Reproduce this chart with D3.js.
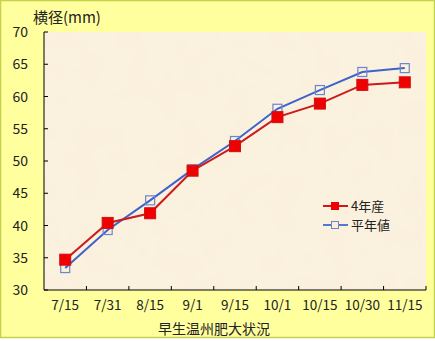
<!DOCTYPE html>
<html>
<head>
<meta charset="utf-8">
<script src="https://cdn.jsdelivr.net/npm/d3@7"></script>
<style>
body { margin: 0; }
svg text { font-family: "Noto Sans CJK JP", "Noto Sans", sans-serif; }
</style>
</head>
<body>
<svg width="435" height="341"></svg>
<script>
// 早生温州 横径
var dates = ["7/15", "7/31", "8/15", "9/1", "9/15", "10/1", "10/15", "10/30", "11/15"];
var thisYear = [34.7, 40.4, 41.9, 48.5, 52.3, 56.8, 58.9, 61.8, 62.2];
var normalYear = [33.4, 39.3, 43.9, 48.7, 53.1, 58.1, 61.0, 63.8, 64.4];
var yTicks = [30, 35, 40, 45, 50, 55, 60, 65, 70];

var width = 435, height = 341;
var margin = {left: 44, top: 32, right: 9, bottom: 51};

var svg = d3.select("svg");

var defs = svg.append("defs");
var filt = defs.append("filter").attr("id", "paper").attr("x", 0).attr("y", 0).attr("width", 1).attr("height", 1);
filt.append("feTurbulence").attr("type", "fractalNoise").attr("baseFrequency", 0.04).attr("numOctaves", 3).attr("seed", 3);
filt.append("feColorMatrix").attr("type", "matrix")
  .attr("values", "0 0 0 0 0.97  0 0 0 0 0.92  0 0 0 0 0.82  0 0 0 0.25 0");
filt.append("feComposite").attr("in2", "SourceGraphic").attr("operator", "over");

// outer frame
svg.append("rect").attr("x", 0.5).attr("y", 0.5).attr("width", width - 1).attr("height", height - 4)
  .attr("fill", "#FFFF9E").attr("stroke", "#C2D24A").attr("stroke-width", 1.5);

var x = d3.scalePoint().domain(dates).range([margin.left, width - margin.right]).padding(0.5);
var y = d3.scaleLinear().domain([30, 70]).range([height - margin.bottom, margin.top]);
var step = x.step();

// plot area
svg.append("rect").attr("x", margin.left).attr("y", margin.top)
  .attr("width", width - margin.right - margin.left).attr("height", height - margin.bottom - margin.top)
  .attr("fill", "#FAF0DC").attr("filter", "url(#paper)");

// y axis
var yAxis = svg.append("g").attr("transform", "translate(" + margin.left + ",0)");
yAxis.append("line").attr("x1", 0).attr("x2", 0).attr("y1", y(70)).attr("y2", y(30)).attr("stroke", "#000");
yAxis.selectAll(".yt").data(yTicks).enter().append("line")
  .attr("x1", 0).attr("x2", 4).attr("y1", y).attr("y2", y).attr("stroke", "#000");
yAxis.selectAll("text").data(yTicks).enter().append("text")
  .attr("x", -16).attr("y", function(d) { return y(d) + 5; })
  .attr("text-anchor", "end").attr("font-size", 14).attr("fill", "#222").text(function(d) { return d; });

// x axis
var xAxis = svg.append("g").attr("transform", "translate(0," + y(30) + ")");
xAxis.append("line").attr("x1", margin.left).attr("x2", width - margin.right).attr("y1", 0).attr("y2", 0).attr("stroke", "#000");
xAxis.selectAll(".xt").data(dates).enter().append("line")
  .attr("x1", function(d) { return x(d) + step / 2; }).attr("x2", function(d) { return x(d) + step / 2; })
  .attr("y1", 0).attr("y2", -4).attr("stroke", "#000");
xAxis.selectAll("text").data(dates).enter().append("text")
  .attr("x", function(d) { return x(d); }).attr("y", 20)
  .attr("text-anchor", "middle").attr("font-size", 13.5).attr("fill", "#222").text(function(d) { return d; });

// titles
svg.append("text").attr("x", 33).attr("y", 23).attr("font-size", 15).attr("fill", "#222").text("横径(mm)");
svg.append("text").attr("x", 214).attr("y", 334).attr("text-anchor", "middle").attr("font-size", 14).attr("fill", "#222").text("早生温州肥大状況");

var line = d3.line().x(function(d, i) { return x(dates[i]); }).y(function(d) { return y(d); });

svg.append("path").datum(normalYear).attr("d", line).attr("fill", "none").attr("stroke", "#3F62CC").attr("stroke-width", 2);
svg.append("path").datum(thisYear).attr("d", line).attr("fill", "none").attr("stroke", "#CC1A1A").attr("stroke-width", 2);

svg.selectAll(".m1").data(normalYear).enter().append("rect")
  .attr("x", function(d, i) { return x(dates[i]) - 4.5; }).attr("y", function(d) { return y(d) - 4.5; })
  .attr("width", 9).attr("height", 9).attr("fill", "none").attr("stroke", "#6B86CC").attr("stroke-width", 1.2);
svg.selectAll(".m2").data(thisYear).enter().append("rect")
  .attr("x", function(d, i) { return x(dates[i]) - 5.5; }).attr("y", function(d) { return y(d) - 5.5; })
  .attr("width", 11).attr("height", 11).attr("fill", "#F00000").attr("stroke", "#D01010").attr("stroke-width", 1);

// legend
var lg = svg.append("g").attr("transform", "translate(323,206)");
lg.append("line").attr("x1", 0).attr("x2", 25).attr("y1", 0).attr("y2", 0).attr("stroke", "#CC1A1A").attr("stroke-width", 2);
lg.append("rect").attr("x", 8).attr("y", -4).attr("width", 8).attr("height", 8).attr("fill", "#F00000");
lg.append("text").attr("x", 28).attr("y", 5).attr("font-size", 13).attr("fill", "#222").text("4年産");
lg.append("line").attr("x1", 0).attr("x2", 25).attr("y1", 19).attr("y2", 19).attr("stroke", "#5577CC").attr("stroke-width", 2);
lg.append("rect").attr("x", 8.5).attr("y", 15.5).attr("width", 7).attr("height", 7).attr("fill", "#FAF0DC").attr("stroke", "#6B86CC");
lg.append("text").attr("x", 28).attr("y", 24).attr("font-size", 13).attr("fill", "#222").text("平年値");
</script>
</body>
</html>
